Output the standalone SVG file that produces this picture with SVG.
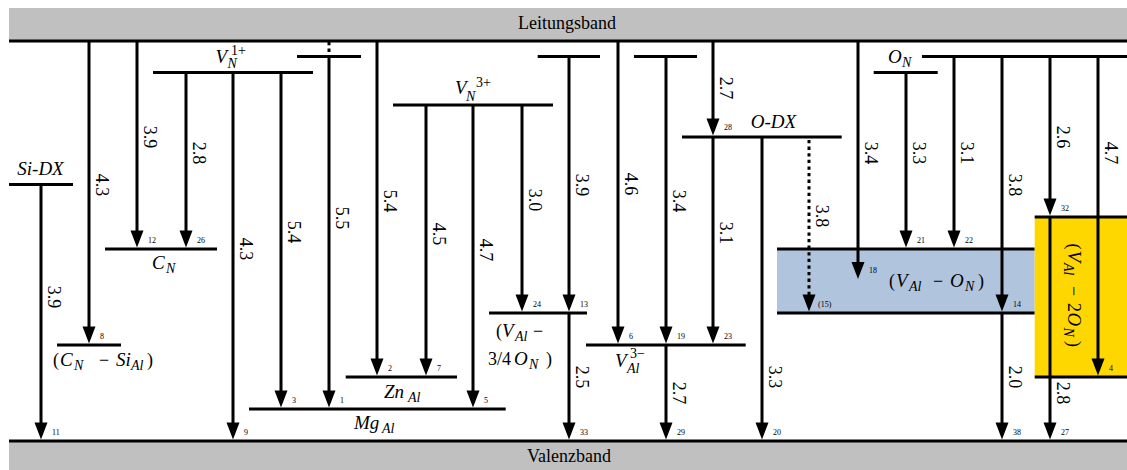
<svg xmlns="http://www.w3.org/2000/svg" width="1127" height="470" viewBox="0 0 1127 470">
<defs>
<style>
.l{stroke:#000;stroke-width:3;fill:none}
.d{stroke:#000;stroke-width:3;fill:none;stroke-dasharray:3.3 3.3}
.t{font-family:"Liberation Serif","Times New Roman",serif;font-size:18px;fill:#000}
.i{font-style:italic;font-size:19px}
.s{font-size:14px}
.v{text-anchor:middle}
.n{font-family:"Liberation Serif","Times New Roman",serif;font-size:8px;fill:#000}
</style>
<path id="ah" d="M-6.5,-17 L6.5,-17 L0,0 Z" fill="#000"/>
</defs>
<rect width="1127" height="470" fill="#fff"/>

<g id="leitungsband">
<rect x="9" y="8" width="1118" height="33" fill="#c0c0c0"/>
<line class="l" x1="9" y1="41" x2="1127" y2="41"/>
<text class="t v" x="567" y="29">Leitungsband</text>
</g>
<g id="valenzband">
<rect x="9" y="441" width="1118" height="29" fill="#c0c0c0"/>
<line class="l" x1="9" y1="441" x2="1127" y2="441"/>
<text class="t v" x="569" y="462">Valenzband</text>
</g>

<g id="v-al-o-n">
<rect x="777" y="249" width="257.7" height="64" fill="#b0c4de"/>
<line class="l" x1="777" y1="249" x2="1034.7" y2="249"/>
<line class="l" x1="777" y1="313" x2="1034.7" y2="313"/>
<text class="t" y="287"><tspan x="889">(</tspan><tspan x="896" class="i">V</tspan><tspan x="909" y="290.5" class="i s">Al</tspan><tspan x="933" y="287">−</tspan><tspan x="950" class="i">O</tspan><tspan x="965" y="290.5" class="i s">N</tspan><tspan x="978" y="287">)</tspan></text>
</g>
<g id="v-al-2o-n">
<rect x="1034.7" y="217" width="92.3" height="160" fill="#ffd700"/>
<line class="l" x1="1034.7" y1="217" x2="1127" y2="217"/>
<line class="l" x1="1034.7" y1="377" x2="1127" y2="377"/>
<text class="t" transform="translate(1073 297) rotate(90)" y="5.5"><tspan x="-53.5">(</tspan><tspan x="-46.5" class="i">V</tspan><tspan x="-34" y="9" class="i s">Al</tspan><tspan x="-11" y="5.5">−</tspan><tspan x="6">2</tspan><tspan x="15.5" class="i">O</tspan><tspan x="30.5" y="9" class="i s">N</tspan><tspan x="44" y="5.5">)</tspan></text>
</g>

<g id="si-dx">
<line class="l" x1="9" y1="184.5" x2="73" y2="184.5"/>
<text class="t i v" x="40.5" y="175">Si-DX</text>
</g>
<g id="c-n-si-al">
<line class="l" x1="57" y1="345" x2="121" y2="345"/>
<text class="t" y="366"><tspan x="53">(</tspan><tspan x="60" class="i">C</tspan><tspan x="74" y="369.5" class="i s">N</tspan><tspan x="99" y="366">−</tspan><tspan x="116" class="i">Si</tspan><tspan x="131" y="369.5" class="i s">Al</tspan><tspan x="147" y="366">)</tspan></text>
</g>
<g id="c-n">
<line class="l" x1="105" y1="249" x2="217" y2="249"/>
<text class="t i" x="152" y="269">C</text>
<text class="t i s" x="166" y="273">N</text>
</g>
<g id="v-n-1plus">
<line class="l" x1="153" y1="72.5" x2="313" y2="72.5"/>
<text class="t i" x="215.5" y="63">V</text>
<text class="t s" x="231" y="55">1+</text>
<text class="t i s" x="227.5" y="68">N</text>
</g>
<g id="level-a">
<line class="l" x1="297" y1="56.5" x2="361" y2="56.5"/>
</g>
<g id="zn-al">
<line class="l" x1="345.7" y1="377" x2="457" y2="377"/>
<text class="t i" x="384" y="398">Zn</text>
<text class="t i s" x="408" y="402">Al</text>
</g>
<g id="mg-al">
<line class="l" x1="249" y1="409" x2="505.7" y2="409"/>
<text class="t i" x="354" y="429">Mg</text>
<text class="t i s" x="382" y="433">Al</text>
</g>
<g id="v-n-3plus">
<line class="l" x1="393" y1="105" x2="553" y2="105"/>
<text class="t i" x="455" y="94">V</text>
<text class="t s" x="476" y="87">3+</text>
<text class="t i s" x="466" y="100.5">N</text>
</g>
<g id="v-al-3-4o-n">
<line class="l" x1="489" y1="313" x2="587" y2="313"/>
<text class="t" y="337"><tspan x="496">(</tspan><tspan x="502" class="i">V</tspan><tspan x="515" y="340.5" class="i s">Al</tspan><tspan x="533" y="337">−</tspan></text>
<text class="t" y="365"><tspan x="488">3/4</tspan><tspan x="514" class="i">O</tspan><tspan x="529" y="368.5" class="i s">N</tspan><tspan x="546" y="365">)</tspan></text>
</g>
<g id="level-b">
<line class="l" x1="537.7" y1="56.5" x2="600" y2="56.5"/>
</g>
<g id="level-c">
<line class="l" x1="634" y1="56.5" x2="697" y2="56.5"/>
</g>
<g id="v-al-3minus">
<line class="l" x1="586" y1="345" x2="745.7" y2="345"/>
<text class="t i" x="615" y="366.5">V</text>
<text class="t s" x="630" y="357.5">3−</text>
<text class="t i s" x="627" y="373">Al</text>
</g>
<g id="o-dx">
<line class="l" x1="682" y1="137" x2="841.7" y2="137"/>
<text class="t i v" x="773.5" y="128">O-DX</text>
</g>
<g id="o-n">
<line class="l" x1="922" y1="56.5" x2="1127" y2="56.5"/>
<line class="l" x1="873.7" y1="72.5" x2="937.7" y2="72.5"/>
<text class="t i" x="888" y="63">O</text>
<text class="t i s" x="902" y="66.5">N</text>
</g>

<g id="connectors">
<path class="l" d="M41 184.5V429.5 M89 41V333.5 M137 41V237.5 M186 72.5V237.5 M233 72.5V429.5 M281 72.5V397.5 M329 56.5V397.5 M377 41V365.5 M426 105V365.5 M473 105V397.5 M522 105V301.5 M569 56.5V301.5 M569 313V429.5 M618 41V333.5 M666 56.5V333.5 M666 345V429.5 M713 41V125.5 M713 137V333.5 M762 137V429.5 M858 41V269 M906 72.5V237.5 M954 56.5V237.5 M1002 56.5V301.5 M1002 313V429.5 M1050 56.5V205.5 M1050 217V429.5 M1098 56.5V365.5"/>
<path class="d" d="M329 42V55 M809 140V300"/>
<use href="#ah" x="41" y="439.5"/>
<use href="#ah" x="89" y="343.5"/>
<use href="#ah" x="137" y="247.5"/>
<use href="#ah" x="186" y="247.5"/>
<use href="#ah" x="233" y="439.5"/>
<use href="#ah" x="281" y="407.5"/>
<use href="#ah" x="329" y="407.5"/>
<use href="#ah" x="377" y="375.5"/>
<use href="#ah" x="426" y="375.5"/>
<use href="#ah" x="473" y="407.5"/>
<use href="#ah" x="522" y="311.5"/>
<use href="#ah" x="569" y="311.5"/>
<use href="#ah" x="569" y="439.5"/>
<use href="#ah" x="618" y="343.5"/>
<use href="#ah" x="666" y="343.5"/>
<use href="#ah" x="666" y="439.5"/>
<use href="#ah" x="713" y="135.5"/>
<use href="#ah" x="713" y="343.5"/>
<use href="#ah" x="762" y="439.5"/>
<use href="#ah" x="809" y="311.5"/>
<use href="#ah" x="858" y="279"/>
<use href="#ah" x="906" y="247.5"/>
<use href="#ah" x="954" y="247.5"/>
<use href="#ah" x="1002" y="311.5"/>
<use href="#ah" x="1002" y="439.5"/>
<use href="#ah" x="1050" y="215.5"/>
<use href="#ah" x="1050" y="439.5"/>
<use href="#ah" x="1098" y="375.5"/>

<text class="t v" transform="translate(53.5 297) rotate(90)" y="6">3.9</text>
<text class="t v" transform="translate(101.5 185) rotate(90)" y="6">4.3</text>
<text class="t v" transform="translate(149.5 137) rotate(90)" y="6">3.9</text>
<text class="t v" transform="translate(198.5 153) rotate(90)" y="6">2.8</text>
<text class="t v" transform="translate(245.5 249) rotate(90)" y="6">4.3</text>
<text class="t v" transform="translate(293.5 232) rotate(90)" y="6">5.4</text>
<text class="t v" transform="translate(341.5 218) rotate(90)" y="6">5.5</text>
<text class="t v" transform="translate(389.5 201) rotate(90)" y="6">5.4</text>
<text class="t v" transform="translate(438.5 234) rotate(90)" y="6">4.5</text>
<text class="t v" transform="translate(485.5 250) rotate(90)" y="6">4.7</text>
<text class="t v" transform="translate(534.5 200) rotate(90)" y="6">3.0</text>
<text class="t v" transform="translate(581.5 185) rotate(90)" y="6">3.9</text>
<text class="t v" transform="translate(581.5 377) rotate(90)" y="6">2.5</text>
<text class="t v" transform="translate(630.5 184) rotate(90)" y="6">4.6</text>
<text class="t v" transform="translate(678.5 201) rotate(90)" y="6">3.4</text>
<text class="t v" transform="translate(678.5 393) rotate(90)" y="6">2.7</text>
<text class="t v" transform="translate(725.5 88) rotate(90)" y="6">2.7</text>
<text class="t v" transform="translate(725.5 233) rotate(90)" y="6">3.1</text>
<text class="t v" transform="translate(774.5 377) rotate(90)" y="6">3.3</text>
<text class="t v" transform="translate(821.5 216) rotate(90)" y="6">3.8</text>
<text class="t v" transform="translate(870.5 153) rotate(90)" y="6">3.4</text>
<text class="t v" transform="translate(918.5 153) rotate(90)" y="6">3.3</text>
<text class="t v" transform="translate(966.5 153) rotate(90)" y="6">3.1</text>
<text class="t v" transform="translate(1014.5 185) rotate(90)" y="6">3.8</text>
<text class="t v" transform="translate(1014.5 377) rotate(90)" y="6">2.0</text>
<text class="t v" transform="translate(1062.5 137) rotate(90)" y="6">2.6</text>
<text class="t v" transform="translate(1062.5 393) rotate(90)" y="6">2.8</text>
<text class="t v" transform="translate(1110.5 153) rotate(90)" y="6">4.7</text>

<text class="n" x="52" y="434.5">11</text>
<text class="n" x="100" y="338.5">8</text>
<text class="n" x="148" y="242.5">12</text>
<text class="n" x="197" y="242.5">26</text>
<text class="n" x="244" y="434.5">9</text>
<text class="n" x="292" y="402.5">3</text>
<text class="n" x="340" y="402.5">1</text>
<text class="n" x="388" y="370.5">2</text>
<text class="n" x="437" y="370.5">7</text>
<text class="n" x="484" y="402.5">5</text>
<text class="n" x="533" y="306.5">24</text>
<text class="n" x="580" y="306.5">13</text>
<text class="n" x="580" y="434.5">33</text>
<text class="n" x="629" y="338.5">6</text>
<text class="n" x="677" y="338.5">19</text>
<text class="n" x="677" y="434.5">29</text>
<text class="n" x="724" y="130">28</text>
<text class="n" x="724" y="338.5">23</text>
<text class="n" x="773" y="434.5">20</text>
<text class="n" x="818" y="306.5">(15)</text>
<text class="n" x="869" y="273">18</text>
<text class="n" x="917" y="242.5">21</text>
<text class="n" x="965" y="242.5">22</text>
<text class="n" x="1013" y="306.5">14</text>
<text class="n" x="1013" y="434.5">38</text>
<text class="n" x="1061" y="210.5">32</text>
<text class="n" x="1061" y="434.5">27</text>
<text class="n" x="1109" y="370.5">4</text>
</g>
</svg>
